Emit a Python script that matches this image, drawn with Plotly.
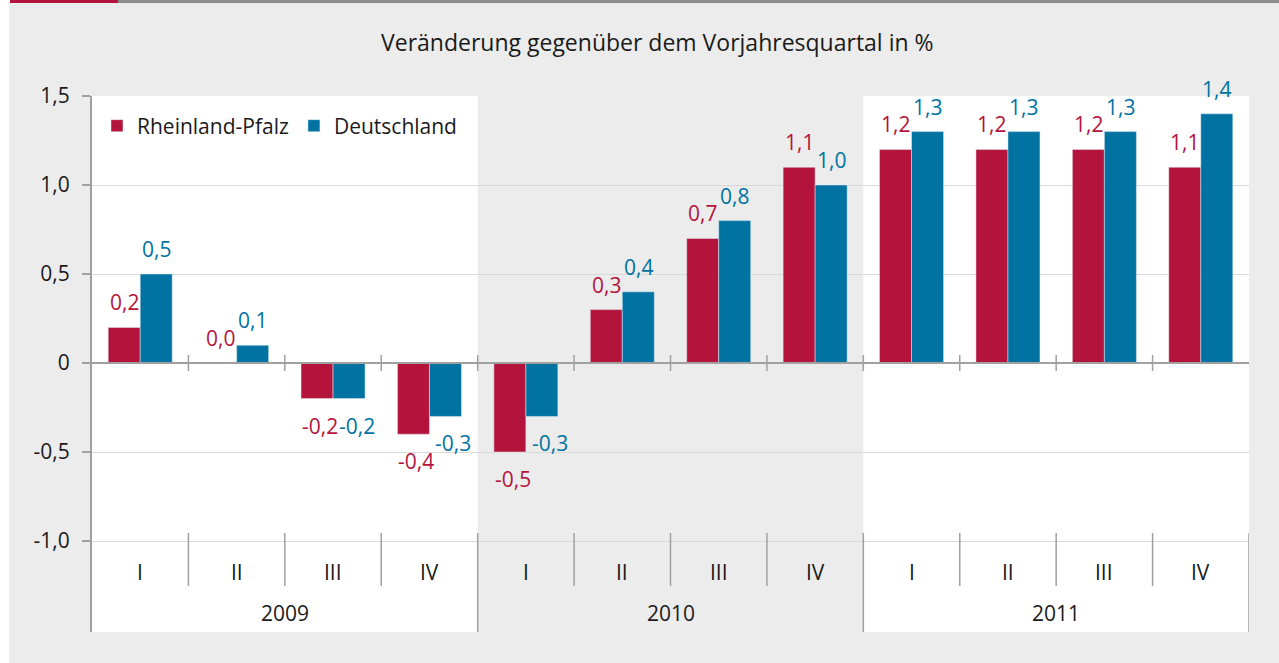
import plotly.graph_objects as go

quarters = ["I", "II", "III", "IV"] * 3
years = ["2009", "2010", "2011"]
rlp = [0.2, 0.0, -0.2, -0.4, -0.5, 0.3, 0.7, 1.1, 1.2, 1.2, 1.2, 1.1]
de = [0.5, 0.1, -0.2, -0.3, -0.3, 0.4, 0.8, 1.0, 1.3, 1.3, 1.3, 1.4]
ytick_vals = [-1.0, -0.5, 0, 0.5, 1.0, 1.5]
ytick_text = ["-1,0", "-0,5", "0", "0,5", "1,0", "1,5"]

RED = "#b4143c"
BLUE = "#0073a2"
BG = "#ebeceb"
AX = "#a0a0a0"
TXT = "#1a1a1a"
FONT = "Open Sans"

def fmt(v):
    return f"{v:.1f}".replace(".", ",")

x = list(range(len(quarters)))
YMIN, YMAX = -1.511, 1.5
L, T, W, H = 92, 96, 1157, 536  # plot area in px

def px(p):
    return (p - L) / W

def py(p):
    return (T + H - p) / H

fig = go.Figure()
fig.add_trace(go.Bar(x=x, y=rlp, name="Rheinland-Pfalz", marker_color=RED))
fig.add_trace(go.Bar(x=x, y=de, name="Deutschland", marker_color=BLUE))

annotations = []
for vals, col, dpos, dneg in ((rlp, RED, -16, -13), (de, BLUE, 16, 24)):
    for i, v in enumerate(vals):
        annotations.append(dict(x=i, y=v, xref="x", yref="y", text=fmt(v), showarrow=False,
                                xshift=(dneg if v < 0 else dpos), yshift=(-27 if v < 0 else 25),
                                yanchor="middle", xanchor="center",
                                font=dict(size=21, color=col, family=FONT)))

shapes = []
shapes.append(dict(type="rect", xref="paper", yref="paper", x0=px(9), x1=px(1290), y0=py(670), y1=py(3),
                   fillcolor=BG, line_width=0, layer="below"))
for i, _ in enumerate(years):
    if i % 2 == 0:
        shapes.append(dict(type="rect", xref="x", yref="y", x0=4 * i - 0.5, x1=4 * i + 3.5,
                           y0=YMIN, y1=YMAX, fillcolor="white", line_width=0, layer="below"))
for k in range(len(quarters) + 1):
    xb = k - 0.5
    if k % 4 == 0:
        if k == 0:
            continue
        shapes.append(dict(type="line", xref="x", yref="y", x0=xb, x1=xb, y0=-0.955, y1=YMIN,
                           line=dict(color=AX, width=1.5)))
    else:
        shapes.append(dict(type="line", xref="x", yref="y", x0=xb, x1=xb, y0=-0.955, y1=-1.253,
                           line=dict(color=AX, width=1.5)))
    if 0 < k < len(quarters):
        shapes.append(dict(type="line", xref="x", yref="y", x0=xb, x1=xb, y0=0.045, y1=-0.045,
                           line=dict(color=AX, width=1.5)))
shapes.append(dict(type="line", xref="x", yref="y", x0=-0.5, x1=11.5, y0=0, y1=0,
                   line=dict(color=AX, width=2)))
shapes.append(dict(type="rect", xref="paper", yref="paper", x0=px(10), x1=px(118),
                   y0=py(3), y1=py(0), fillcolor=RED, line_width=0))
shapes.append(dict(type="rect", xref="paper", yref="paper", x0=px(118), x1=px(1290),
                   y0=py(3), y1=py(0), fillcolor="#8c8c8c", line_width=0))

for i, q in enumerate(quarters):
    annotations.append(dict(x=i, y=-1.175, xref="x", yref="y", text=q, showarrow=False,
                            font=dict(size=21, color=TXT, family=FONT)))
for j, yr in enumerate(years):
    annotations.append(dict(x=4 * j + 1.5, y=-1.405, xref="x", yref="y", text=yr, showarrow=False,
                            font=dict(size=21, color=TXT, family=FONT)))
annotations.append(dict(x=px(657), y=py(42), xref="paper", yref="paper", xanchor="center", yanchor="middle",
                        text="Veränderung gegenüber dem Vorjahresquartal in %",
                        showarrow=False, font=dict(size=23, color=TXT, family=FONT)))

fig.update_layout(
    width=1279, height=663,
    margin=dict(l=L, r=1279 - L - W, t=T, b=663 - T - H),
    paper_bgcolor="white", plot_bgcolor="rgba(0,0,0,0)",
    barmode="group", bargap=0.336, bargroupgap=0,
    font=dict(family=FONT, size=21, color=TXT),
    showlegend=True,
    legend=dict(orientation="h", x=px(97), y=py(126), xanchor="left", yanchor="middle",
                bgcolor="rgba(0,0,0,0)", font=dict(size=21, family=FONT, color=TXT),
                itemwidth=30, traceorder="normal"),
    xaxis=dict(range=[-0.5, 11.5], visible=False, fixedrange=True),
    yaxis=dict(range=[YMIN, YMAX], tickvals=ytick_vals, ticktext=ytick_text,
               showgrid=True, gridcolor="#d9d9d9", gridwidth=1, zeroline=False,
               showline=True, linecolor=AX, linewidth=2,
               ticks="outside", ticklen=8, tickcolor=AX, tickwidth=1.5, ticklabelstandoff=8,
               tickfont=dict(size=21, family=FONT, color=TXT)),
    shapes=shapes, annotations=annotations,
)

fig.write_html("out.html", config={"displayModeBar": False},
               post_script="document.body.style.margin='0px';")
